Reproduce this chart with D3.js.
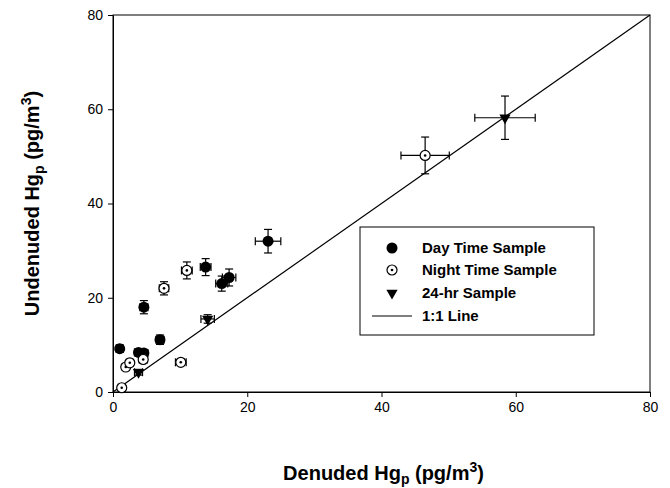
<!DOCTYPE html>
<html>
<head>
<meta charset="utf-8">
<script src="https://cdn.jsdelivr.net/npm/d3@7"></script>
<style>
  body { margin: 0; background: #fff; }
  svg { display: block; font-family: 'Liberation Sans', Arial, sans-serif; }
  .axis text { font-size: 14px; fill: #000; }
  .axis path, .axis line { stroke: #000; stroke-width: 1; }
  .axis-title { font-size: 20px; font-weight: bold; }
  .legend text { font-size: 15px; font-weight: bold; }
</style>
</head>
<body>
<svg id="chart" width="670" height="488"></svg>
<script>
// Day time samples: [denuded, undenuded, xErr, yErr]
const dayTime = [
  [1.0, 9.2, 0.5, 0.8],
  [3.8, 8.4, 0.6, 0.7],
  [4.6, 8.3, 0.6, 0.7],
  [4.6, 18.0, 0.6, 1.4],
  [7.0, 11.1, 0.6, 1.0],
  [13.8, 26.5, 0.8, 1.8],
  [16.2, 23.0, 0.9, 1.6],
  [17.3, 24.3, 1.0, 1.8],
  [23.1, 32.0, 1.9, 2.5]
];
const nightTime = [
  [1.3, 0.9, 0.5, 0.3],
  [1.9, 5.3, 0.5, 0.6],
  [2.5, 6.2, 0.5, 0.6],
  [4.5, 6.9, 0.6, 0.6],
  [7.6, 22.0, 0.7, 1.4],
  [10.1, 6.3, 0.8, 0.6],
  [11.0, 25.8, 0.8, 1.8],
  [46.5, 50.2, 3.6, 3.9]
];
const fullDay = [
  [3.8, 4.2, 0.6, 0.6],
  [14.1, 15.5, 1.0, 0.9],
  [58.4, 58.2, 4.5, 4.6]
];
const tickValues = [0, 20, 40, 60, 80];
const legendLabels = ['Day Time Sample', 'Night Time Sample', '24-hr Sample', '1:1 Line'];

const margin = { top: 15, right: 20, bottom: 96, left: 113 };
const width = 650 - margin.left;
const height = 392 - margin.top;

const svg = d3.select('#chart');
const chart = svg.append('g').attr('transform', `translate(${margin.left},${margin.top})`);

const xScale = d3.scaleLinear().domain([0, 80]).range([0, width]);
const yScale = d3.scaleLinear().domain([0, 80]).range([height, 0]);

// frame
chart.append('rect')
  .attr('width', width).attr('height', height)
  .attr('fill', 'none').attr('stroke', '#000').attr('stroke-width', 1);

// axes
chart.append('g')
  .attr('class', 'axis x-axis')
  .attr('transform', `translate(0,${height})`)
  .call(d3.axisBottom(xScale).tickValues(tickValues).tickSize(5).tickPadding(5).tickSizeOuter(0));
chart.append('g')
  .attr('class', 'axis y-axis')
  .call(d3.axisLeft(yScale).tickValues(tickValues).tickSize(5).tickPadding(5).tickSizeOuter(0));

// 1:1 line
chart.append('line')
  .attr('x1', xScale(0)).attr('y1', yScale(0))
  .attr('x2', xScale(80)).attr('y2', yScale(80))
  .attr('stroke', '#000').attr('stroke-width', 1.2);

// error bars
function drawErrorBars(data) {
  const g = chart.append('g').attr('stroke', '#000').attr('stroke-width', 1.2);
  data.forEach(([x, y, ex, ey]) => {
    const cx = xScale(x), cy = yScale(y);
    const x0 = xScale(x - ex), x1 = xScale(x + ex);
    const y0 = yScale(y - ey), y1 = yScale(y + ey);
    const cap = 4;
    g.append('line').attr('x1', x0).attr('x2', x1).attr('y1', cy).attr('y2', cy);
    g.append('line').attr('x1', x0).attr('x2', x0).attr('y1', cy - cap).attr('y2', cy + cap);
    g.append('line').attr('x1', x1).attr('x2', x1).attr('y1', cy - cap).attr('y2', cy + cap);
    g.append('line').attr('x1', cx).attr('x2', cx).attr('y1', y0).attr('y2', y1);
    g.append('line').attr('x1', cx - cap).attr('x2', cx + cap).attr('y1', y0).attr('y2', y0);
    g.append('line').attr('x1', cx - cap).attr('x2', cx + cap).attr('y1', y1).attr('y2', y1);
  });
}
drawErrorBars(dayTime);
drawErrorBars(nightTime);
drawErrorBars(fullDay);

// markers
const triangle = d3.symbol().type(d3.symbolTriangle).size(55);

function dayMarker(sel) {
  sel.append('circle').attr('r', 5.5).attr('fill', '#000');
}
function nightMarker(sel) {
  sel.append('circle').attr('r', 5).attr('fill', '#fff').attr('stroke', '#000').attr('stroke-width', 1.2);
  sel.append('circle').attr('r', 1.3).attr('fill', '#000');
}
function triMarker(sel) {
  sel.append('path').attr('d', triangle).attr('transform', 'rotate(180)').attr('fill', '#000');
}

chart.selectAll('.day').data(dayTime).join('g')
  .attr('class', 'day')
  .attr('transform', (d) => `translate(${xScale(d[0])},${yScale(d[1])})`)
  .call(dayMarker);
chart.selectAll('.night').data(nightTime).join('g')
  .attr('class', 'night')
  .attr('transform', (d) => `translate(${xScale(d[0])},${yScale(d[1])})`)
  .call(nightMarker);
chart.selectAll('.full').data(fullDay).join('g')
  .attr('class', 'full')
  .attr('transform', (d) => `translate(${xScale(d[0])},${yScale(d[1])})`)
  .call(triMarker);

// legend
const legend = svg.append('g').attr('class', 'legend').attr('transform', 'translate(360,227)');
legend.append('rect')
  .attr('width', 234).attr('height', 108)
  .attr('fill', '#fff').attr('stroke', '#000').attr('stroke-width', 1);
const rowY = [21, 43, 66, 89];
const markers = [dayMarker, nightMarker, triMarker];
legendLabels.forEach((label, i) => {
  const row = legend.append('g').attr('transform', `translate(32,${rowY[i]})`);
  if (i < 3) row.call(markers[i]);
  else row.append('line').attr('x1', -20).attr('x2', 20).attr('stroke', '#000').attr('stroke-width', 1.2);
  legend.append('text')
    .attr('x', 62).attr('y', rowY[i])
    .attr('dy', '0.35em')
    .text(label);
});

// axis titles
const xTitle = svg.append('text')
  .attr('class', 'axis-title')
  .attr('x', margin.left + width / 2 + 2)
  .attr('y', 480)
  .attr('text-anchor', 'middle');
xTitle.append('tspan').text('Denuded Hg');
xTitle.append('tspan').attr('dy', 4).attr('font-size', 14).text('p');
xTitle.append('tspan').attr('dy', -4).text(' (pg/m');
xTitle.append('tspan').attr('dy', -8).attr('font-size', 14).text('3');
xTitle.append('tspan').attr('dy', 8).text(')');

const yTitle = svg.append('text')
  .attr('class', 'axis-title')
  .attr('transform', `translate(39,${margin.top + height / 2}) rotate(-90)`)
  .attr('text-anchor', 'middle');
yTitle.append('tspan').text('Undenuded Hg');
yTitle.append('tspan').attr('dy', 5).attr('font-size', 14).text('p');
yTitle.append('tspan').attr('dy', -5).text(' (pg/m');
yTitle.append('tspan').attr('dy', -8).attr('font-size', 14).text('3');
yTitle.append('tspan').attr('dy', 8).text(')');
</script>
</body>
</html>
